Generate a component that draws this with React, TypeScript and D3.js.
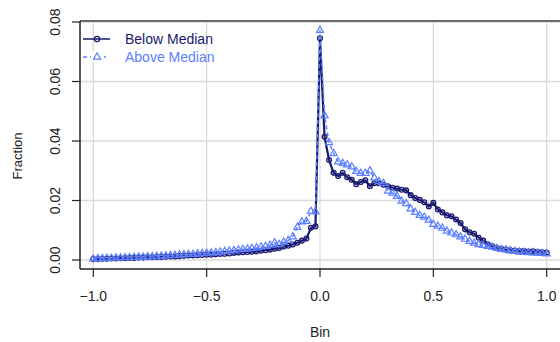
import React from "react";
import * as d3 from "d3";

const bins: number[] = d3.range(101).map((i) => Math.round((-1 + 0.02 * i) * 100) / 100);

const belowMedian: number[] = [
  0.0003, 0.0003, 0.0004, 0.0004, 0.0005, 0.0005, 0.0006, 0.0006, 0.0007, 0.0007,
  0.0008, 0.0008, 0.0009, 0.0009, 0.0010, 0.0010, 0.0011, 0.0012, 0.0012, 0.0013,
  0.0014, 0.0015, 0.0015, 0.0016, 0.0017, 0.0018, 0.0018, 0.0019, 0.0020, 0.0021,
  0.0022, 0.0024, 0.0025, 0.0026, 0.0027, 0.0028, 0.0029, 0.0031, 0.0033, 0.0035,
  0.0038, 0.0040, 0.0045, 0.0048, 0.0052, 0.0058, 0.0065, 0.0072, 0.0108, 0.0113,
  0.0745,
  0.0414, 0.0336, 0.0293, 0.0282, 0.0293, 0.0278, 0.0270, 0.0255, 0.0262, 0.0268,
  0.0248, 0.0258, 0.0258, 0.0253, 0.0248, 0.0243, 0.0240, 0.0236, 0.0234, 0.0218,
  0.0208, 0.0202, 0.0194, 0.0180, 0.0192, 0.0170, 0.0160, 0.0150, 0.0147, 0.0136,
  0.0124, 0.0103, 0.0093, 0.0088, 0.0075, 0.0065, 0.0053, 0.0046, 0.0040, 0.0038,
  0.0035, 0.0033, 0.0031, 0.0030, 0.0030, 0.0028, 0.0029, 0.0027, 0.0026, 0.0025,
];

const aboveMedian: number[] = [
  0.0004, 0.0005, 0.0005, 0.0006, 0.0006, 0.0007, 0.0007, 0.0008, 0.0008, 0.0009,
  0.0010, 0.0010, 0.0011, 0.0011, 0.0012, 0.0013, 0.0014, 0.0015, 0.0016, 0.0017,
  0.0018, 0.0019, 0.0019, 0.0021, 0.0022, 0.0023, 0.0024, 0.0025, 0.0027, 0.0029,
  0.0030, 0.0032, 0.0034, 0.0036, 0.0037, 0.0039, 0.0041, 0.0044, 0.0046, 0.0050,
  0.0058, 0.0052, 0.0060, 0.0066, 0.0078, 0.0110, 0.0128, 0.0130, 0.0164, 0.0162,
  0.0772,
  0.0485, 0.0395, 0.0358, 0.0330, 0.0325, 0.0320, 0.0313, 0.0298, 0.0291, 0.0291,
  0.0300, 0.0276, 0.0264, 0.0258, 0.0232, 0.0225, 0.0214, 0.0198, 0.0190, 0.0172,
  0.0160, 0.0150, 0.0144, 0.0134, 0.0120, 0.0114, 0.0107, 0.0097, 0.0091, 0.0085,
  0.0078, 0.0070, 0.0063, 0.0057, 0.0052, 0.0049, 0.0046, 0.0043, 0.0039, 0.0036,
  0.0034, 0.0031, 0.0029, 0.0027, 0.0026, 0.0025, 0.0024, 0.0023, 0.0022, 0.0021,
];

const xTicks: number[] = [-1, -0.5, 0, 0.5, 1];
const xTickLabels: string[] = ["\u22121.0", "\u22120.5", "0.0", "0.5", "1.0"];
const yTicks: number[] = [0, 0.02, 0.04, 0.06, 0.08];
const yTickLabels: string[] = ["0.00", "0.02", "0.04", "0.06", "0.08"];
const seriesNames: string[] = ["Below Median", "Above Median"];

const BELOW = "#191970";
const ABOVE = "#5b7fff";
const FONT = "'Liberation Sans', Arial, Helvetica, sans-serif";

export default function App() {
  const W = 560, H = 342;
  const x = d3.scaleLinear().domain([-1, 1]).range([93.3, 546.7]);
  const y = d3.scaleLinear().domain([0, 0.08]).range([260, 22]);
  const left = 80, right = 560, top = 21, bottom = 269;

  const line = d3.line<number>().x((_, i) => x(bins[i])).y((d) => y(d));
  const tri = d3.symbol().type(d3.symbolTriangle).size(22)();

  return (
    <svg width={W} height={H} style={{ position: "absolute", left: 0, top: 0, background: "#fff" }} fontFamily={FONT}>
      {/* grid */}
      {xTicks.map((t) => (
        <line key={"gx" + t} x1={x(t)} x2={x(t)} y1={top + 1} y2={bottom} stroke="#dadada" strokeWidth={1.3} />
      ))}
      {yTicks.map((t) => (
        <line key={"gy" + t} x1={left} x2={right} y1={y(t)} y2={y(t)} stroke="#dadada" strokeWidth={1.3} />
      ))}
      {/* frame */}
      <line x1={left} x2={right} y1={top} y2={top} stroke="#6b6b6b" strokeWidth={2} />
      <line x1={left} x2={left} y1={top} y2={bottom} stroke="#222" strokeWidth={1.5} />
      <line x1={left} x2={right} y1={bottom} y2={bottom} stroke="#222" strokeWidth={1.5} />
      {/* ticks */}
      {xTicks.map((t, i) => (
        <g key={"xt" + t}>
          <line x1={x(t)} x2={x(t)} y1={bottom} y2={bottom + 8} stroke="#222" strokeWidth={1.2} />
          <text x={x(t)} y={301} textAnchor="middle" fontSize={14} fill="#222">{xTickLabels[i]}</text>
        </g>
      ))}
      {yTicks.map((t, i) => (
        <g key={"yt" + t}>
          <line x1={left - 8} x2={left} y1={y(t)} y2={y(t)} stroke="#222" strokeWidth={1.2} />
          <text transform={`translate(60,${y(t)}) rotate(-90)`} textAnchor="middle" fontSize={14} fill="#222">{yTickLabels[i]}</text>
        </g>
      ))}
      <text x={320} y={337} textAnchor="middle" fontSize={14} fill="#222">Bin</text>
      <text transform={`translate(22,${156}) rotate(-90)`} textAnchor="middle" fontSize={13} fill="#222">Fraction</text>

      {/* series */}
      <path d={line(belowMedian) || ""} fill="none" stroke={BELOW} strokeWidth={2.2} />
      {belowMedian.map((v, i) => (
        <circle key={"b" + i} cx={x(bins[i])} cy={y(v)} r={2.4} fill="none" stroke={BELOW} strokeWidth={1.3} />
      ))}
      <path d={line(aboveMedian) || ""} fill="none" stroke={ABOVE} strokeWidth={1.5} strokeDasharray="4,3" />
      {aboveMedian.map((v, i) => (
        <path key={"a" + i} d={tri || ""} transform={`translate(${x(bins[i])},${y(v)})`} fill="none" stroke={ABOVE} strokeWidth={1.2} />
      ))}

      {/* legend */}
      <line x1={83} x2={110} y1={39} y2={39} stroke={BELOW} strokeWidth={1.5} />
      <circle cx={97} cy={39} r={2.6} fill="none" stroke={BELOW} strokeWidth={1.3} />
      <text x={125} y={44} fontSize={14} fill={BELOW}>{seriesNames[0]}</text>
      <line x1={83} x2={106} y1={57} y2={57} stroke={ABOVE} strokeWidth={1.3} strokeDasharray="4,3" />
      <rect x={91} y={51} width={12} height={11} fill="#fff" />
      <path d={tri || ""} transform="translate(97,57)" fill="none" stroke={ABOVE} strokeWidth={1.2} />
      <text x={125} y={62} fontSize={14} fill={ABOVE}>{seriesNames[1]}</text>
    </svg>
  );
}
